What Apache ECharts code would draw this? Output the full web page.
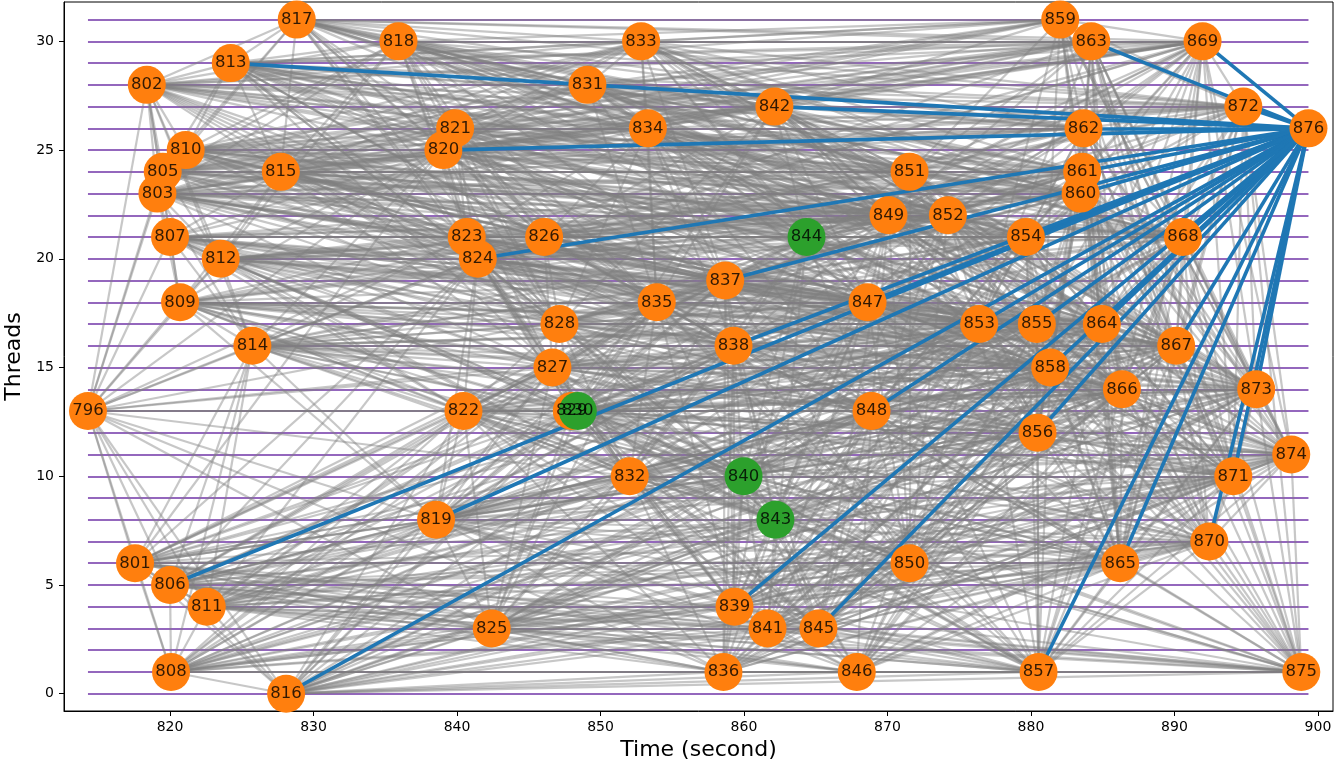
<!DOCTYPE html>
<html><head><meta charset="utf-8">
<script src="https://cdn.jsdelivr.net/npm/echarts@6/dist/echarts.min.js"></script>
<style>html,body{margin:0;padding:0;background:#fff}#c{width:1343px;height:764px}</style>
</head><body><div id="c"></div>
<script>
const nodeIds = [796,801,802,803,805,806,807,808,809,810,811,812,813,814,815,816,817,818,819,820,821,822,823,824,825,826,827,828,829,830,831,832,833,834,835,836,837,838,839,840,841,842,843,844,845,846,847,848,849,850,851,852,853,854,855,856,857,858,859,860,861,862,863,864,865,866,867,868,869,870,871,872,873,874,875,876];
const nodeTimes = [814.28,817.56,818.38,819.12,819.49,820.00,820.00,820.07,820.70,821.09,822.56,823.53,824.23,825.74,827.72,828.09,828.83,835.92,838.54,839.05,839.87,840.45,840.68,841.45,842.42,846.07,846.65,847.14,848.00,848.42,849.09,852.04,852.83,853.30,853.92,858.57,858.69,859.27,859.34,859.97,861.64,862.12,862.19,864.36,865.19,867.86,868.61,868.89,870.07,871.54,871.54,874.21,876.39,879.65,880.41,880.46,880.53,881.34,882.04,883.46,883.57,883.66,884.20,884.94,886.22,886.34,890.12,890.59,891.96,892.43,894.10,894.80,895.70,898.14,898.84,899.34];
const nodeThreads = [13,6,28,23,24,5,21,1,18,25,4,20,29,16,24,0,31,30,8,25,26,13,21,20,3,21,15,17,13,13,28,10,30,26,18,1,19,16,4,10,3,27,8,21,3,1,18,13,22,6,24,22,17,21,17,12,1,15,31,23,24,26,30,17,6,14,16,21,30,7,10,27,14,11,1,26];
const greenNodes = [830,840,843,844];
const threadLines = [0,1,2,3,4,5,6,7,8,9,10,11,12,13,14,15,16,17,18,19,20,21,22,23,24,25,26,27,28,29,30,31];
const xTicks = [820,830,840,850,860,870,880,890,900];
const yTicks = [0,5,10,15,20,25,30];
const blueTarget = 876;
const blueSources = [813,842,820,862,861,860,824,837,854,847,838,806,819,816,853,848,855,856,858,864,839,845,857,865,867,868,870,871,873,872,863,869];
const greyEdges = [
 [796,[801,806,809,812,814,822,819,807,811,803,805,802,808,816,825,827,829]],
 [801,[816,819,822,825,832,836,811,814,839,850,843,808,806,846,857,841,845,827,829,848,840]],
 [802,[813,817,818,810,805,803,815,821,831,833,842,807,812,820,834,859,863,851,826,823,814,809]],
 [803,[815,820,823,824,826,835,849,851,852,812,814,828,854,860,809,807,837,844,847,861,862,827,868,869]],
 [805,[815,817,820,821,834,851,861,813,818,812,823,826,831,842,849,862,863,810,824]],
 [806,[811,816,819,825,832,836,839,841,822,845,814,808,827,829,840,843,846,850,848,857]],
 [807,[812,814,823,824,835,837,847,827,826,828,844,809,822,829,838,849,852,853,854]],
 [808,[816,825,836,841,846,857,811,819,839,845,875,850,822,832,840,843,848,865,870,829,856]],
 [809,[814,822,827,828,835,838,847,832,812,819,823,824,829,837,844,853,855,858,866]],
 [810,[815,817,820,821,823,834,842,818,813,824,826,831,833,849,851,859,862,852]],
 [811,[816,819,825,836,839,841,845,832,846,822,840,814,827,829,843,850,857,865,848]],
 [812,[814,823,824,826,828,835,837,844,849,827,815,820,822,838,847,852,853,854,860]],
 [813,[817,818,821,831,833,842,834,820,859,851,826,823,835,815,824,849,852,862,863,869,860,828]],
 [814,[819,822,827,828,838,832,835,848,829,840,824,837,847,853,855,856,858,866,830]],
 [815,[818,820,821,823,826,834,851,852,861,849,824,831,828,835,837,842,844,854,860,862,833,817]],
 [816,[825,836,846,857,841,839,845,875,819,832,843,850,822,840,848,856,865,870,827]],
 [817,[818,833,859,863,831,842,869,821,834,862,820,823,826,851,872,849,860,861]],
 [818,[831,833,842,859,863,834,862,869,821,851,872,820,823,826,835,849,852,860,861]],
 [819,[825,832,836,839,840,843,822,827,841,850,856,848,829,830,838,845,846,857,858,865,866,871]],
 [820,[823,826,834,851,849,852,861,842,831,824,835,860,828,833,837,844,854,862,863,868]],
 [821,[831,834,842,851,862,833,826,861,823,824,835,849,852,859,860,863,869]],
 [822,[827,829,832,838,848,840,835,830,856,843,858,825,828,836,839,845,853,866,871,873]],
 [823,[826,828,835,837,844,849,852,847,854,824,827,834,838,851,853,860,861,868]],
 [824,[826,828,835,837,844,847,849,852,854,827,838,830,832,840,848,853,855,858,860,864,868]],
 [825,[836,839,841,845,846,857,843,832,850,865,875,827,829,840,848,856,870,871,874]],
 [826,[835,837,844,849,852,854,834,851,860,868,828,838,842,847,853,861,862,864,869]],
 [827,[829,830,838,848,853,855,858,835,832,840,864,828,837,839,843,847,856,866,867,873]],
 [828,[835,837,838,847,853,855,864,844,848,829,834,849,852,854,858,860,866,867]],
 [829,[832,838,840,848,856,858,866,843,835,839,845,850,853,855,864,871,873]],
 [830,[832,840,843,848,856,866,873,835,838,839,850,853,855,858,864,871]],
 [831,[833,834,842,859,862,863,851,872,869,861,835,844,849,852,860,868]],
 [832,[839,840,843,845,850,856,836,841,865,848,871,838,846,857,858,866,870,873,874,875]],
 [833,[842,859,863,869,834,862,872,851,849,852,860,861,868,835]],
 [834,[842,851,862,861,849,852,860,863,872,835,837,844,847,854,864,868,869]],
 [835,[837,838,847,844,853,855,849,864,852,842,848,854,858,860,861,866,867,868]],
 [836,[839,841,845,846,857,875,843,850,865,840,848,856,870,874,871]],
 [837,[844,847,849,852,854,853,860,868,855,838,848,858,861,862,864,867,869]],
 [838,[847,848,853,855,858,864,866,867,840,844,849,852,854,856,860,873,871]],
 [839,[841,845,846,850,857,843,856,865,870,840,848,866,871,874,875]],
 [840,[843,848,850,856,858,866,871,845,841,846,853,857,864,865,867,873,874,875]],
 [841,[845,846,857,850,865,875,870,843,848,856,866,871,874]],
 [842,[851,859,862,863,869,872,861,849,860,844,847,852,854,868,853,864]],
 [843,[845,846,850,856,865,870,857,874,848,853,858,866,871,875]],
 [844,[847,849,852,854,853,860,868,855,851,858,861,862,864,867,869]],
 [845,[846,850,857,865,875,856,870,848,853,866,871,874]],
 [846,[857,875,850,865,870,874,856,866,871,873]],
 [847,[853,854,855,864,858,867,868,860,849,852,856,861,866,873,869]],
 [848,[853,856,858,866,855,873,867,871,850,857,864,865,870,874,875]],
 [849,[851,852,854,860,861,868,862,853,855,858,863,864,867,869,872]],
 [850,[856,857,865,870,871,875,874,853,858,866,873]],
 [851,[852,859,860,861,862,863,869,872,854,864,868,873]],
 [852,[854,860,861,868,862,869,873,853,855,858,864,867,872]],
 [853,[855,858,864,866,867,873,856,854,860,865,868,871,874,875]],
 [854,[860,861,864,868,869,872,867,873,855,858,862,866,871]],
 [855,[858,864,866,867,873,874,871,856,860,861,865,868,875]],
 [856,[865,866,870,871,874,875,857,873,858,864,867]],
 [857,[865,870,875,871,874,866,873]],
 [858,[864,866,867,873,871,874,875,860,861,865,868,870]],
 [859,[863,869,872,862,860,861,868,873]],
 [860,[862,868,869,872,873,867,861,864,866,871,874]],
 [861,[862,863,869,872,868,864,867,873]],
 [862,[863,869,872,868,864,867,873]],
 [863,[869,872,868,873,874,864,867,866]],
 [864,[866,867,873,868,874,871,875,865,869,870,872]],
 [865,[870,871,874,875,873,866,867,872]],
 [866,[867,873,874,875,871,870,868,869,872]],
 [867,[873,874,871,875,868,869,870,872]],
 [868,[872,873,874,869,875,870,871]],
 [869,[872,874,873,871]],
 [870,[871,875,874,873]],
 [871,[874,875,873,872]],
 [872,[873,874,875]],
 [873,[874,875]],
 [874,[875]]
];
const greyEdgesMore = [
 [796,[820,823,824,832,835,836,838,848]],
 [801,[820,824,835,837,838,853,855,856,865,866,870,875]],
 [802,[824,828,835,837,849,852,860,861,862,869,872]],
 [803,[818,821,831,833,834,838,842,853,855,858,864,872]],
 [805,[828,833,835,837,844,852,854,859,860,868,869,872]],
 [806,[824,835,838,853,856,858,865,866,870,871,875]],
 [807,[815,820,832,834,840,848,858,860,861,864,867]],
 [808,[814,827,835,838,853,858,866,871,873,874]],
 [809,[815,820,826,830,840,843,848,849,852,856,864,867]],
 [810,[828,835,837,838,844,847,854,860,861,863,868,869]],
 [811,[824,835,838,853,856,858,866,870,871,874,875]],
 [812,[818,829,830,832,840,848,855,858,861,864,868]],
 [813,[827,837,838,844,847,854,861,868,872,853]],
 [814,[820,823,826,843,849,852,854,864,867,871,873]],
 [815,[827,838,847,849,853,855,859,863,864,868,869]],
 [816,[829,830,838,853,858,866,871,873,874]],
 [817,[824,828,835,844,852,854,868]],
 [818,[824,828,837,844,847,854,864,868]],
 [819,[824,835,837,847,853,855,864,867,870,873,874,875]],
 [820,[827,838,847,853,855,858,864,867,869,872]],
 [821,[828,837,844,847,854,864,868,872]],
 [822,[824,837,844,847,850,855,857,864,865,867,870,874]],
 [823,[829,832,840,848,855,858,864,866,869]],
 [824,[829,843,856,861,862,866,867,869]],
 [825,[830,835,838,853,858,866,867,873]],
 [826,[827,848,855,858,863,866,867,872]],
 [827,[832,845,849,852,854,857,865,870,871,874]],
 [828,[832,840,842,843,850,856,861,868,871,873]],
 [829,[837,842,847,849,857,862,865,867,870,874]],
 [830,[837,845,847,857,865,867,870,874,875]],
 [831,[837,847,853,854,864,867]],
 [832,[835,837,844,847,853,855,864,867]],
 [833,[837,844,847,853,854,864,867]],
 [834,[838,848,853,855,858,866,867,873]],
 [835,[839,843,850,856,857,865,871,873,874]],
 [836,[837,838,853,858,866,873]],
 [837,[839,843,850,856,866,871,873,874]],
 [838,[839,843,845,850,857,865,870,874]],
 [839,[844,847,853,855,858,864,867,873]],
 [840,[844,847,849,852,854,855,868]],
 [841,[844,847,853,855,858,864,873]],
 [842,[855,858,867,873,866]],
 [843,[847,849,852,855,864,867,873]],
 [844,[848,853,856,866,871,873]],
 [845,[849,852,855,858,864,867,873]],
 [846,[848,853,855,858,864,867]],
 [847,[850,857,865,870,871,874]],
 [848,[849,852,854,860,861,868]],
 [849,[850,856,866,871,873]],
 [850,[851,852,855,864,867]],
 [851,[853,855,858,866,867]],
 [852,[856,866,871,874]],
 [853,[857,859,862,863,870]],
 [854,[856,857,865,870,874]],
 [855,[857,870,869]],
 [856,[859,860,861,862,868]],
 [857,[858,864,867,868]],
 [858,[862,869,872]],
 [859,[864,867,874]],
 [860,[863,865,870,875]],
 [861,[865,866,871,874]],
 [862,[865,866,871,874]],
 [863,[865,870,871,875]],
 [865,[868,869]]
];

const FONT = 'DejaVu Sans';
const pos = {};
nodeIds.forEach((id, i) => { pos[id] = [nodeTimes[i], nodeThreads[i]]; });
const tMin = Math.min.apply(null, nodeTimes);
const tMax = Math.max.apply(null, nodeTimes);

const purpleData = threadLines.map(t => ({ coords: [[tMin, t], [tMax, t]] }));
const seen = new Set();
const greyData = [];
greyEdges.concat(greyEdgesMore).forEach(([s, ts]) => ts.forEach(t => {
  const k = s + '-' + t;
  if (seen.has(k)) return;
  seen.add(k);
  greyData.push({ coords: [pos[s], pos[t]] });
}));
const blueData = blueSources.map(s => ({ coords: [pos[s], pos[blueTarget]] }));
const nodeData = nodeIds.map((id, i) => ({
  name: String(id), value: [nodeTimes[i], nodeThreads[i]],
  itemStyle: { color: greenNodes.indexOf(id) >= 0 ? '#2ca02c' : '#ff7f0e', opacity: 1 }
}));

const chart = echarts.init(document.getElementById('c'), null, { renderer: 'canvas' });
chart.setOption({
  animation: false,
  backgroundColor: '#fff',
  grid: { left: 64, right: 10, top: 2, bottom: 53, show: true, borderColor: '#000', borderWidth: 1,
          backgroundColor: 'transparent', outerBoundsMode: 'none', containLabel: false },
  xAxis: {
    type: 'value', min: 812.61, max: 901.05,
    axisLine: { show: true, onZero: false, lineStyle: { color: '#000', width: 1 } },
    axisTick: { show: true, length: 5, customValues: xTicks, lineStyle: { color: '#000', width: 1 } },
    axisLabel: { customValues: xTicks, color: '#000', fontSize: 14, margin: 9, fontFamily: FONT },
    splitLine: { show: false },
    name: 'Time (second)', nameLocation: 'middle', nameGap: 27,
    nameTextStyle: { fontSize: 22, color: '#000', fontFamily: FONT }
  },
  yAxis: {
    type: 'value', min: -0.795, max: 31.81,
    axisLine: { show: true, onZero: false, lineStyle: { color: '#000', width: 1 } },
    axisTick: { show: true, length: 5, customValues: yTicks, lineStyle: { color: '#000', width: 1 } },
    axisLabel: { customValues: yTicks, color: '#000', fontSize: 14, margin: 10, fontFamily: FONT },
    splitLine: { show: false },
    name: 'Threads', nameLocation: 'middle', nameGap: 33,
    nameTextStyle: { fontSize: 22, color: '#000', fontFamily: FONT }
  },
  series: [
    { type: 'lines', coordinateSystem: 'cartesian2d', z: 1, silent: true, data: purpleData,
      lineStyle: { color: '#9467bd', width: 2.2, opacity: 1, curveness: 0 } },
    { type: 'lines', coordinateSystem: 'cartesian2d', z: 2, silent: true, data: greyData,
      lineStyle: { color: '#808080', width: 2.2, opacity: 0.44, curveness: 0 } },
    { type: 'lines', coordinateSystem: 'cartesian2d', z: 3, silent: true, data: blueData,
      lineStyle: { color: '#1f77b4', width: 3.6, opacity: 1, curveness: 0 } },
    { type: 'scatter', z: 4, silent: true, symbol: 'circle', symbolSize: 38, data: nodeData,
      itemStyle: { opacity: 1 }, label: { show: false } },
    { type: 'scatter', z: 5, silent: true, symbol: 'circle', symbolSize: 1,
      itemStyle: { color: 'rgba(0,0,0,0)' },
      data: nodeData.map(d => ({ name: d.name, value: d.value })),
      label: { show: true, position: 'inside', formatter: p => p.name, color: '#000', fontSize: 16.5, fontFamily: FONT } }
  ]
});
</script>
</body></html>
